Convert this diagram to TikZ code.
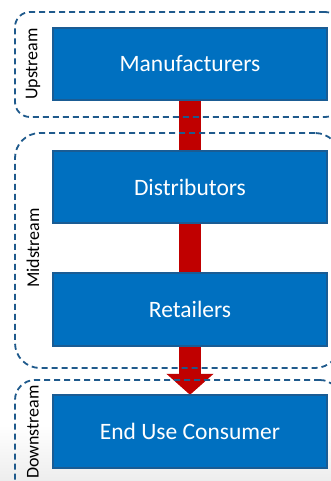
\documentclass[tikz,border=0pt]{standalone}
\usepackage{fontspec}
\setmainfont{Carlito}
\usetikzlibrary{arrows.meta}
\definecolor{boxfill}{HTML}{0070C0}
\definecolor{boxline}{HTML}{1A5C94}
\definecolor{dashline}{HTML}{1F5A8C}
\definecolor{flowred}{HTML}{C00000}
\begin{document}
\begin{tikzpicture}[x=1pt,y=-1pt,
  stagebox/.style={rectangle, draw=boxline, line width=1.8pt, fill=boxfill,
    minimum width=274pt, text=white, inner sep=0pt,
    font=\fontsize{23.5}{28}\selectfont},
  groupbox/.style={rectangle, draw=dashline, line width=1.8pt,
    dash pattern=on 6pt off 4pt, inner sep=0pt},
  sidelabel/.style={rotate=90, text=black, inner sep=0pt,
    font=\fontsize{18}{21}\selectfont},
  flow/.style={draw=flowred, line width=22pt,
    -{Triangle[length=21pt,width=46pt]}}
]
\useasboundingbox (0,0) rectangle (331,481);
\clip (0,0) rectangle (331,481);
% background with light grey floor
\fill[white] (0,0) rectangle (331,481);
\shade[top color=white, bottom color=black!7] (0,425) rectangle (331,481);

% stage boxes (positions)
\path (190,64) coordinate (cman);
\path (190,187) coordinate (cdis);
\path (190,309.5) coordinate (cret);
\path (190,431.5) coordinate (cend);

% hidden anchors for the flow arrow
\node[minimum width=274pt, minimum height=72pt, inner sep=0pt] (manA) at (cman) {};
\node[minimum width=274pt, minimum height=73pt, inner sep=0pt] (endA) at (cend) {};

% flow arrow (behind boxes)
\draw[flow] (manA.south) -- (endA.north);

% group frames
\node[groupbox, rounded corners=15pt, minimum width=325pt, minimum height=105pt] (up) at (177.5,64.5) {};
\node[groupbox, rounded corners=25pt, minimum width=325pt, minimum height=235pt] (mid) at (177.5,250.5) {};
\node[groupbox, rounded corners=20pt, minimum width=325pt, minimum height=130pt] (down) at (177.5,445) {};

% stage boxes
\node[stagebox, minimum height=72pt] (man) at (cman) {Manufacturers};
\node[stagebox, minimum height=72pt] (dis) at (cdis) {Distributors};
\node[stagebox, minimum height=73pt] (ret) at (cret) {Retailers};
\node[stagebox, minimum height=73pt] (end) at (cend) {End Use Consumer};

% side labels
\node[sidelabel] (lup) at (33,64) {Upstream};
\node[sidelabel] (lmid) at (33,248) {Midstream};
\node[sidelabel] (ldown) at (33,432) {Downstream};
\end{tikzpicture}
\end{document}
